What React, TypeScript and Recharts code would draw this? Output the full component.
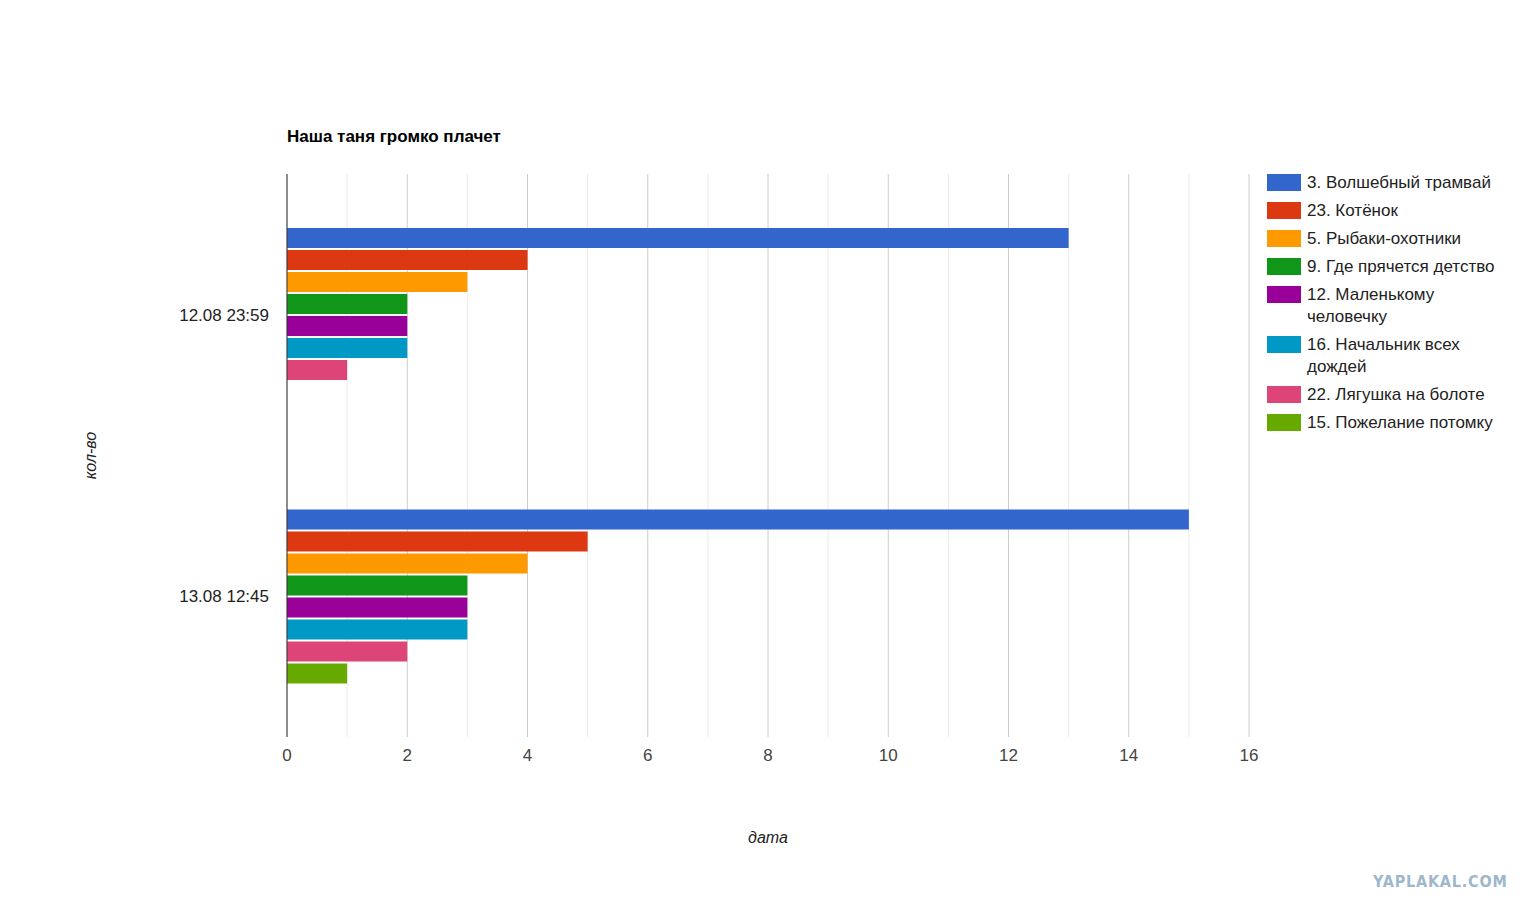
import React from 'react';
import {
  Bar,
  BarChart,
  CartesianGrid,
  Label,
  XAxis,
  YAxis,
} from 'recharts';

const categories = ['12.08 23:59', '13.08 12:45'];

const seriesNames = [
  '3. Волшебный трамвай',
  '23. Котёнок',
  '5. Рыбаки-охотники',
  '9. Где прячется детство',
  '12. Маленькому человечку',
  '16. Начальник всех дождей',
  '22. Лягушка на болоте',
  '15. Пожелание потомку',
];

const seriesColors = [
  '#3366cc',
  '#dc3912',
  '#ff9900',
  '#109618',
  '#990099',
  '#0099c6',
  '#dd4477',
  '#66aa00',
];

// one array per series, one value per category
const tramvai = [13, 15];
const kotenok = [4, 5];
const rybaki = [3, 4];
const detstvo = [2, 3];
const chelovechek = [2, 3];
const dozhdi = [2, 3];
const lyagushka = [1, 2];
const potomku = [0, 1];

const seriesValues = [tramvai, kotenok, rybaki, detstvo, chelovechek, dozhdi, lyagushka, potomku];

const majorTicks = [0, 2, 4, 6, 8, 10, 12, 14, 16];
const minorTicks = [1, 3, 5, 7, 9, 11, 13, 15];

const data = categories.map((name, i) => {
  const row: Record<string, string | number> = { name };
  seriesValues.forEach((vals, s) => {
    row['s' + s] = vals[i];
  });
  return row;
});

const FONT = 'Arial, "Liberation Sans", sans-serif';

const LegendBox = () => (
  <div
    style={{
      position: 'absolute',
      left: 1267,
      top: 172,
      width: 250,
      fontFamily: FONT,
      fontSize: 17,
      color: '#222',
      lineHeight: '22px',
    }}
  >
    {seriesNames.map((n, i) => (
      <div key={n} style={{ display: 'flex', alignItems: 'flex-start', marginBottom: 6 }}>
        <div
          style={{
            width: 34,
            height: 17,
            marginTop: 2,
            background: seriesColors[i],
            flex: '0 0 auto',
          }}
        />
        <div style={{ marginLeft: 6, width: 196 }}>{n}</div>
      </div>
    ))}
  </div>
);

export default function App() {
  return (
    <div style={{ position: 'absolute', left: 0, top: 0, width: 1535, height: 911, background: '#fff' }}>
      <div
        style={{
          position: 'absolute',
          left: 287,
          top: 127,
          fontFamily: FONT,
          fontWeight: 'bold',
          fontSize: 17,
          color: '#000',
        }}
      >
        Наша таня громко плачет
      </div>
      <BarChart
        width={1535}
        height={911}
        data={data}
        layout='vertical'
        margin={{ top: 174, right: 286, bottom: 64, left: 60 }}
        barSize={20}
        barGap={2}
      >
        {/* minor lines at odd values, major at the ticks */}
        <CartesianGrid horizontal={false} verticalValues={minorTicks} stroke='#ebebeb' />
        <CartesianGrid horizontal={false} stroke='#cccccc' />
        <XAxis
          type='number'
          domain={[0, 16]}
          ticks={majorTicks}
          axisLine={false}
          tickLine={false}
          tickSize={0}
          tickMargin={12}
          height={110}
          tick={{ fill: '#444', fontSize: 17, fontFamily: FONT }}
        >
          <Label
            content={({ viewBox }: any) => (
              <text
                x={viewBox.x + viewBox.width / 2}
                y={viewBox.y + 106}
                textAnchor='middle'
                fontFamily={FONT}
                fontStyle='italic'
                fontSize={16}
                fill='#222'
              >
                дата
              </text>
            )}
          />
        </XAxis>
        <YAxis
          type='category'
          dataKey='name'
          width={227}
          axisLine={{ stroke: '#333', strokeWidth: 1 }}
          tickLine={false}
          tickSize={0}
          tickMargin={18}
          tick={{ fill: '#222', fontSize: 17, fontFamily: FONT }}
        >
          <Label
            content={({ viewBox }: any) => {
              const cx = viewBox.x + 36;
              const cy = viewBox.y + viewBox.height / 2;
              return (
                <text
                  x={cx}
                  y={cy}
                  transform={`rotate(-90 ${cx} ${cy})`}
                  textAnchor='middle'
                  fontFamily={FONT}
                  fontStyle='italic'
                  fontSize={16}
                  fill='#222'
                >
                  кол-во
                </text>
              );
            }}
          />
        </YAxis>
        {seriesNames.map((n, i) => (
          <Bar
            key={n}
            dataKey={'s' + i}
            name={n}
            fill={seriesColors[i]}
            isAnimationActive={false}
          />
        ))}
      </BarChart>
      <LegendBox />
      <div
        style={{
          position: 'absolute',
          left: 1373,
          top: 872,
          fontFamily: '"DejaVu Sans Condensed", sans-serif',
          fontWeight: 'bold',
          fontSize: 16,
          letterSpacing: 0.8,
          color: '#9db8cd',
        }}
      >
        YAPLAKAL.COM
      </div>
    </div>
  );
}
